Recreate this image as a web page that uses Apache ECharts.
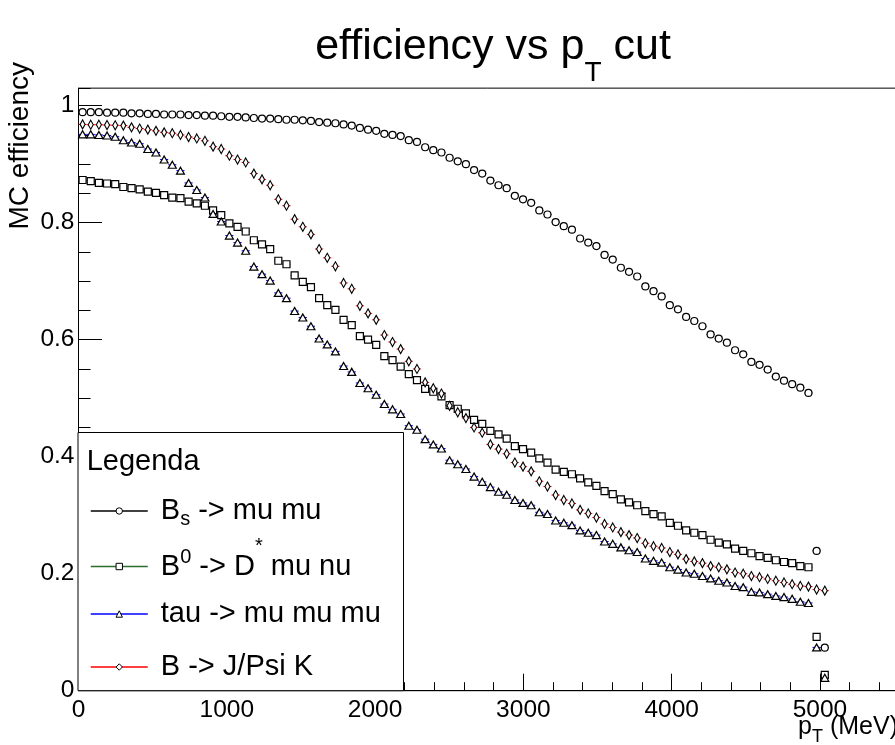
<!DOCTYPE html>
<html><head><meta charset="utf-8">
<script src="https://cdn.jsdelivr.net/npm/echarts@6/dist/echarts.min.js"></script>
<style>html,body{margin:0;padding:0;background:#fff}#c{width:895px;height:745px}</style>
</head><body><div id="c"></div>
<script>
// ---- data ----
const ptCut = [27.5, 82.5, 137.5, 192.5, 247.5, 302.5, 357.5, 412.5, 467.5, 522.5,
  577.5, 632.5, 687.5, 742.5, 797.5, 852.5, 907.5, 962.5, 1017.5, 1072.5,
  1127.5, 1182.5, 1237.5, 1292.5, 1347.5, 1402.5, 1457.5, 1512.5, 1567.5, 1622.5,
  1677.5, 1732.5, 1787.5, 1842.5, 1897.5, 1952.5, 2007.5, 2062.5, 2117.5, 2172.5,
  2227.5, 2282.5, 2337.5, 2392.5, 2447.5, 2502.5, 2557.5, 2612.5, 2667.5, 2722.5,
  2777.5, 2832.5, 2887.5, 2942.5, 2997.5, 3052.5, 3107.5, 3162.5, 3217.5, 3272.5,
  3327.5, 3382.5, 3437.5, 3492.5, 3547.5, 3602.5, 3657.5, 3712.5, 3767.5, 3822.5,
  3877.5, 3932.5, 3987.5, 4042.5, 4097.5, 4152.5, 4207.5, 4262.5, 4317.5, 4372.5,
  4427.5, 4482.5, 4537.5, 4592.5, 4647.5, 4702.5, 4757.5, 4812.5, 4867.5, 4922.5,
  4977.5, 5032.5];

const effBs = [0.989, 0.989, 0.989, 0.988, 0.988, 0.988, 0.987, 0.987, 0.986, 0.986,
  0.985, 0.985, 0.985, 0.984, 0.984, 0.983, 0.983, 0.982, 0.981, 0.981,
  0.980, 0.979, 0.978, 0.978, 0.977, 0.976, 0.976, 0.975, 0.974, 0.972,
  0.971, 0.970, 0.968, 0.966, 0.962, 0.959, 0.957, 0.952, 0.950, 0.948,
  0.941, 0.938, 0.929, 0.924, 0.920, 0.911, 0.905, 0.900, 0.890, 0.884,
  0.872, 0.864, 0.859, 0.846, 0.840, 0.834, 0.821, 0.814, 0.801, 0.794,
  0.788, 0.773, 0.766, 0.760, 0.745, 0.737, 0.723, 0.716, 0.708, 0.691,
  0.683, 0.674, 0.659, 0.652, 0.639, 0.632, 0.623, 0.609, 0.602, 0.595,
  0.582, 0.575, 0.562, 0.557, 0.549, 0.537, 0.530, 0.524, 0.518, 0.509,
  0.239, 0.0735];

const effB0 = [0.873, 0.871, 0.868, 0.867, 0.866, 0.861, 0.859, 0.857, 0.853, 0.851,
  0.847, 0.843, 0.842, 0.836, 0.833, 0.829, 0.821, 0.813, 0.799, 0.793,
  0.785, 0.770, 0.763, 0.755, 0.735, 0.729, 0.710, 0.699, 0.690, 0.671,
  0.659, 0.651, 0.634, 0.625, 0.606, 0.600, 0.591, 0.572, 0.565, 0.554,
  0.541, 0.531, 0.516, 0.511, 0.503, 0.488, 0.482, 0.474, 0.463, 0.456,
  0.444, 0.438, 0.431, 0.418, 0.413, 0.407, 0.397, 0.390, 0.378, 0.374,
  0.370, 0.363, 0.356, 0.350, 0.341, 0.336, 0.327, 0.322, 0.317, 0.307,
  0.302, 0.298, 0.287, 0.282, 0.274, 0.270, 0.266, 0.258, 0.253, 0.250,
  0.243, 0.239, 0.235, 0.230, 0.227, 0.223, 0.220, 0.218, 0.213, 0.211,
  0.092, 0.027];

const effTau = [0.951, 0.951, 0.950, 0.949, 0.947, 0.941, 0.937, 0.935, 0.926, 0.920,
  0.908, 0.899, 0.889, 0.868, 0.856, 0.843, 0.815, 0.802, 0.778, 0.766,
  0.752, 0.725, 0.712, 0.701, 0.680, 0.671, 0.649, 0.638, 0.623, 0.602,
  0.592, 0.580, 0.555, 0.545, 0.526, 0.517, 0.506, 0.490, 0.481, 0.473,
  0.453, 0.446, 0.430, 0.421, 0.414, 0.394, 0.387, 0.379, 0.366, 0.357,
  0.348, 0.340, 0.335, 0.326, 0.321, 0.317, 0.305, 0.302, 0.291, 0.287,
  0.283, 0.274, 0.270, 0.266, 0.255, 0.251, 0.245, 0.240, 0.237, 0.226,
  0.222, 0.219, 0.211, 0.207, 0.202, 0.200, 0.196, 0.192, 0.188, 0.185,
  0.179, 0.177, 0.169, 0.168, 0.165, 0.162, 0.160, 0.157, 0.152, 0.150,
  0.074, 0.022];

const effJpsi = [0.968, 0.9675, 0.9675, 0.967, 0.9665, 0.966, 0.963, 0.961, 0.959, 0.957,
  0.9545, 0.953, 0.950, 0.9465, 0.944, 0.940, 0.930, 0.926, 0.9145, 0.908,
  0.903, 0.884, 0.874, 0.864, 0.840, 0.829, 0.806, 0.793, 0.780, 0.755,
  0.740, 0.7255, 0.697, 0.687, 0.658, 0.645, 0.634, 0.608, 0.596, 0.584,
  0.563, 0.550, 0.527, 0.517, 0.508, 0.487, 0.476, 0.466, 0.450, 0.441,
  0.421, 0.413, 0.405, 0.390, 0.383, 0.375, 0.358, 0.349, 0.3345, 0.326,
  0.320, 0.309, 0.303, 0.296, 0.285, 0.279, 0.271, 0.266, 0.261, 0.252,
  0.247, 0.244, 0.237, 0.233, 0.225, 0.221, 0.218, 0.213, 0.211, 0.2075,
  0.202, 0.200, 0.196, 0.194, 0.191, 0.188, 0.185, 0.182, 0.179, 0.178,
  0.173, 0.171];

const seriesNames = ['B_s -> mu mu', 'B^0 -> D^* mu nu', 'tau -> mu mu mu', 'B -> J/Psi K'];
const binHalfWidth = 27.5;   // half of the 55 MeV bin width (horizontal error bar)
const xMax = 5533;
const yMax = 1.03;

// ---- presentation ----
const FF = "'Liberation Sans', Arial, Helvetica, sans-serif";
const look = [
  { ys: effBs,   symbol: 'circle',   size: 7,      color: '#000000' },
  { ys: effB0,   symbol: 'rect',     size: 7,      color: '#2e6b2e' },
  { ys: effTau,  symbol: 'triangle', size: [8, 7], color: '#0000ff' },
  { ys: effJpsi, symbol: 'diamond',  size: [5, 9], color: '#ff0000' }
];
const legendRich = {
  'B_s -> mu mu': '{n| B}{sb|s}{n| -> mu mu}',
  'B^0 -> D^* mu nu': '{n| B}{sp|0}{n| -> D}{st|*}{n| mu nu}',
  'tau -> mu mu mu': '{n| tau -> mu mu mu}',
  'B -> J/Psi K': '{n| B -> J/Psi K}'
};
const legendRowTop = [486, 536, 589, 642];

function pts(ys) { return ptCut.map((x, i) => [x, ys[i]]); }

const series = [];
look.forEach((s, i) => {
  series.push({
    type: 'custom',
    name: seriesNames[i] + ' err',
    data: pts(s.ys),
    z: 1,
    silent: true,
    animation: false,
    renderItem: function (params, api) {
      const x = api.value(0), y = api.value(1);
      const a = api.coord([x - binHalfWidth, y]);
      const b = api.coord([x + binHalfWidth, y]);
      return { type: 'line', shape: { x1: a[0], y1: a[1], x2: b[0], y2: b[1] },
               style: { stroke: s.color, lineWidth: 1 } };
    }
  });
});
look.forEach((s, i) => {
  series.push({
    type: 'line',
    name: seriesNames[i],
    data: pts(s.ys),
    symbol: s.symbol,
    symbolSize: s.size,
    showSymbol: true,
    showAllSymbol: true,
    lineStyle: { opacity: 0, width: 1 },
    itemStyle: { color: '#ffffff', borderColor: '#000000', borderWidth: 1.2 },
    emphasis: { disabled: true },
    silent: true,
    animation: false,
    z: 2
  });
});

const richLegend = {
  n:  { fontFamily: FF, fontSize: 29, color: '#000', lineHeight: 50, verticalAlign: 'middle' },
  sb: { fontFamily: FF, fontSize: 20, color: '#000', lineHeight: 50, height: 34, verticalAlign: 'bottom' },
  sp: { fontFamily: FF, fontSize: 20, color: '#000', lineHeight: 50, height: 32, verticalAlign: 'top' },
  st: { fontFamily: FF, fontSize: 20, color: '#000', lineHeight: 50, height: 9, verticalAlign: 'top' }
};
const legends = look.map((s, i) => ({
  orient: 'vertical', left: 90, top: legendRowTop[i], padding: 0, itemGap: 0,
  itemWidth: 57, itemHeight: 8, selectedMode: false, z: 10,
  data: [{
    name: seriesNames[i],
    lineStyle: { color: s.color, width: 1.5, opacity: 1 },
    itemStyle: { color: '#ffffff', borderColor: '#000000', borderWidth: 1 }
  }],
  formatter: function (name) { return legendRich[name]; },
  textStyle: { color: '#000', fontFamily: FF, fontSize: 29, lineHeight: 50, height: 50, rich: richLegend }
}));

const axisCommon = { splitLine: { show: false } };
const plainNum = v => String(+v.toFixed(4));
const gridTop = 690.7 - 585 * yMax;
const option = {
  backgroundColor: '#ffffff',
  animation: false,
  grid: { left: 78.5, top: gridTop, right: -4, bottom: 54.3, show: true, borderColor: '#000', borderWidth: 1,
          backgroundColor: 'transparent', containLabel: false, outerBoundsMode: 'none' },
  xAxis: [
    Object.assign({ type: 'value', min: 0, max: xMax, interval: 1000, position: 'bottom',
      axisLine: { onZero: false, lineStyle: { color: '#000', width: 1 } },
      axisTick: { inside: true, length: 17, lineStyle: { color: '#000', width: 1 } },
      axisLabel: { color: '#000', fontSize: 24.5, fontFamily: FF, margin: 7, showMaxLabel: false, formatter: plainNum } }, axisCommon),
    Object.assign({ type: 'value', min: 0, max: xMax, interval: 200, position: 'bottom',
      axisLine: { show: false, onZero: false },
      axisTick: { inside: true, length: 8.5, lineStyle: { color: '#000', width: 1 } },
      axisLabel: { show: false } }, axisCommon)
  ],
  yAxis: [
    Object.assign({ type: 'value', min: 0, max: yMax, interval: 0.2, position: 'left',
      axisLine: { onZero: false, lineStyle: { color: '#000', width: 1 } },
      axisTick: { inside: true, length: 23.5, lineStyle: { color: '#000', width: 1 } },
      axisLabel: { color: '#000', fontSize: 24.5, fontFamily: FF, margin: 4, showMaxLabel: false, formatter: plainNum } }, axisCommon),
    Object.assign({ type: 'value', min: 0, max: yMax, interval: 0.05, position: 'left',
      axisLine: { show: false, onZero: false },
      axisTick: { inside: true, length: 12, lineStyle: { color: '#000', width: 1 } },
      axisLabel: { show: false } }, axisCommon)
  ],
  legend: legends,
  graphic: [
    { type: 'rect', z: 5, shape: { x: 78, y: 432.5, width: 325.5, height: 258.2 },
      style: { fill: '#ffffff', stroke: '#000000', lineWidth: 1 }, silent: true },
    { type: 'text', z: 11, x: 86.7, y: 462,
      style: { text: 'Legenda', fontFamily: FF, fontSize: 29, fill: '#000', align: 'left', verticalAlign: 'middle' } },
    { type: 'text', z: 11, x: 493, y: 47,
      style: { text: '{n|efficiency vs p}{s|T}{n| cut}', fill: '#000', fontFamily: FF, fontSize: 43,
        align: 'center', verticalAlign: 'middle',
        rich: { n: { fontFamily: FF, fontSize: 43, fill: '#000', lineHeight: 80, verticalAlign: 'middle' },
                s: { fontFamily: FF, fontSize: 28, fill: '#000', lineHeight: 80, height: 28, verticalAlign: 'bottom' } } } },
    { type: 'text', z: 11, x: 20, y: 62, rotation: Math.PI / 2,
      style: { text: 'MC efficiency', fontFamily: FF, fontSize: 28, fill: '#000', align: 'right', verticalAlign: 'middle' } },
    { type: 'text', z: 11, x: 898, y: 727,
      style: { text: '{n|p}{s|T}{n| (MeV)}', fill: '#000', fontFamily: FF, fontSize: 25,
        align: 'right', verticalAlign: 'middle',
        rich: { n: { fontFamily: FF, fontSize: 25, fill: '#000', lineHeight: 40, verticalAlign: 'middle' },
                s: { fontFamily: FF, fontSize: 18, fill: '#000', lineHeight: 40, height: 20, verticalAlign: 'bottom' } } } }
  ],
  series: series
};

const chart = echarts.init(document.getElementById('c'), null, { renderer: 'canvas' });
chart.setOption(option);
</script>
</body></html>
